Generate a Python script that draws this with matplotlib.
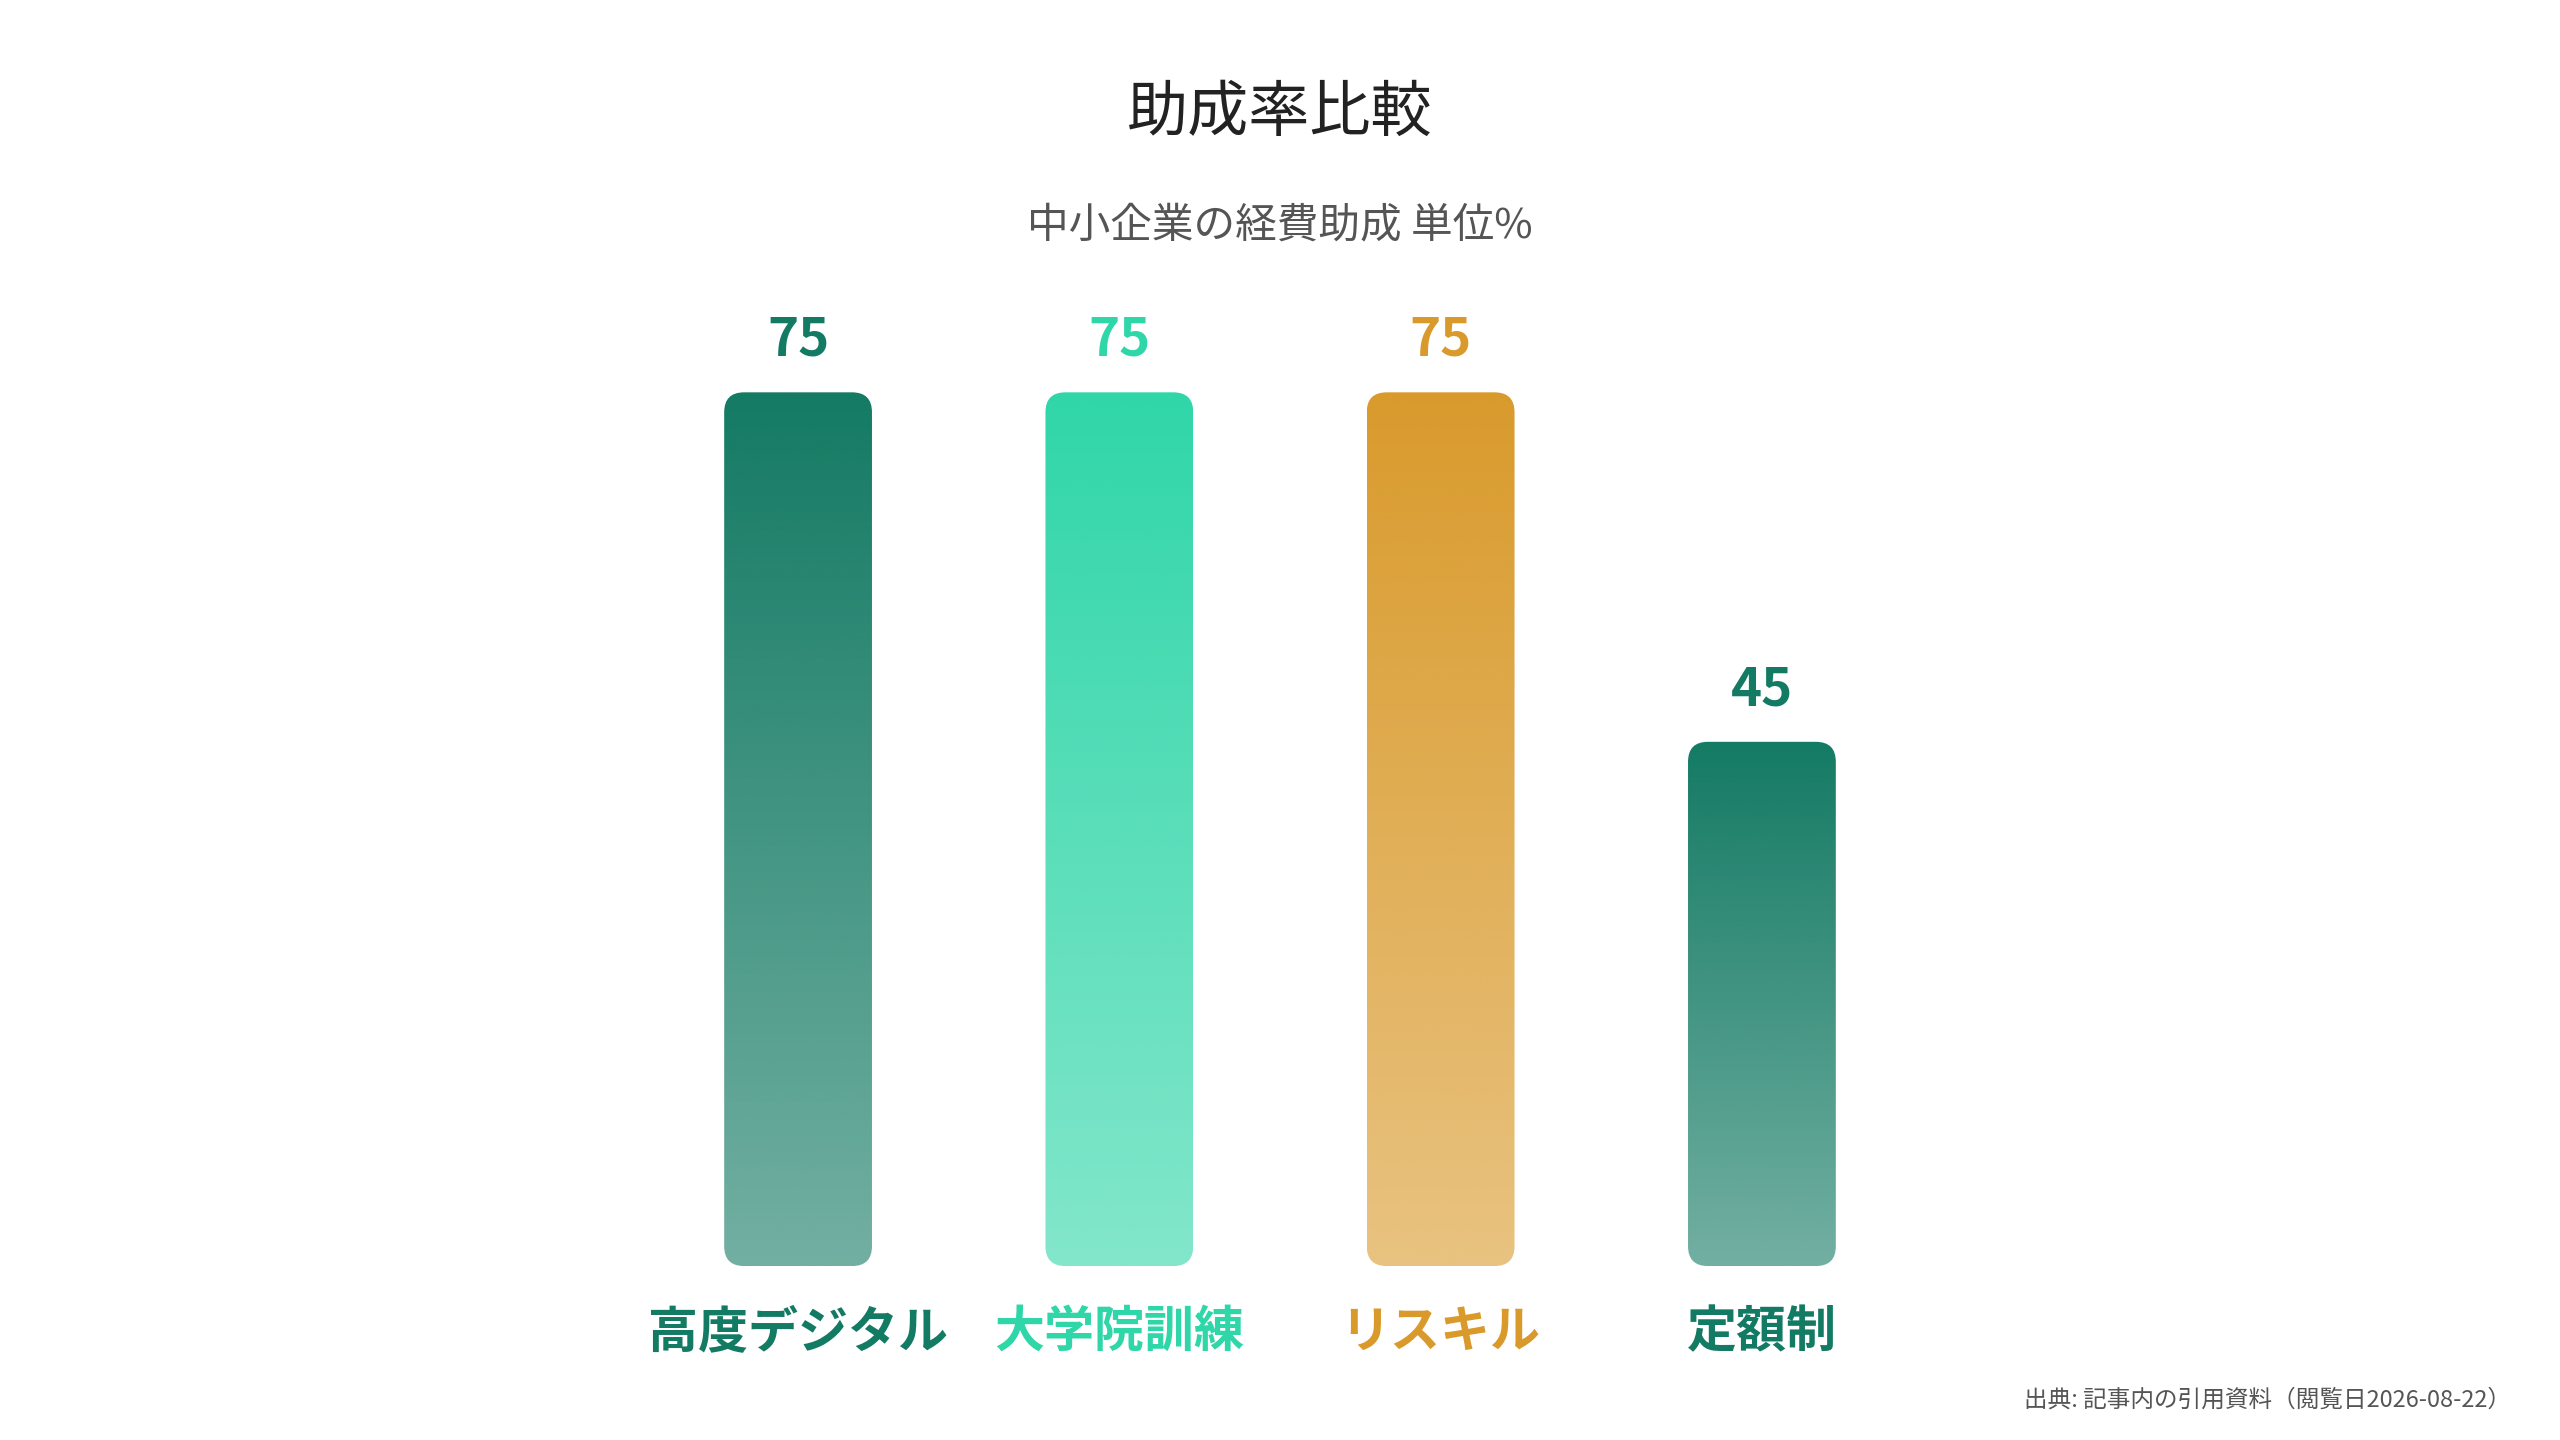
import matplotlib
matplotlib.use("Agg")
import matplotlib.pyplot as plt
import numpy as np
from matplotlib.patches import FancyBboxPatch
from matplotlib.colors import to_rgb

plt.rcParams['font.family'] = ['Noto Sans CJK JP', 'DejaVu Sans']

categories = ["高度デジタル", "大学院訓練", "リスキル", "定額制"]
values = [75, 75, 75, 45]
colors = ["#137a63", "#2fd6a8", "#d99a2b", "#137a63"]
title = "助成率比較"
subtitle = "中小企業の経費助成 単位%"
source = "出典: 記事内の引用資料（閲覧日2026-08-22）"

fig = plt.figure(figsize=(25.6, 14.4), dpi=100)
ax = fig.add_axes([0.249, 0.1208, 0.502, 0.809])
ax.set_xlim(-0.5, 3.5)
ax.set_ylim(0, 100)
ax.axis("off")

w = 0.46
r = 0.062
aspect = 27.6
for i, (v, c) in enumerate(zip(values, colors)):
    x0 = i - w / 2
    patch = FancyBboxPatch((x0, 0), w, v, boxstyle=f"round,pad=0,rounding_size={r}",
                           mutation_aspect=aspect, facecolor="none", edgecolor="none")
    ax.add_patch(patch)
    rgb = to_rgb(c)
    n = 256
    grad = np.zeros((n, 1, 4))
    grad[..., :3] = rgb
    grad[:, 0, 3] = np.linspace(1.0, 0.6, n)
    im = ax.imshow(grad, extent=(x0, x0 + w, 0, v), origin="upper", aspect="auto",
                   interpolation="bilinear", zorder=2)
    im.set_clip_path(patch)
    ax.text(i, v + 2.2, str(v), ha="center", va="bottom", fontsize=38,
            fontweight="bold", color=c)
    ax.text(i, -3.5, categories[i], ha="center", va="top", fontsize=36,
            fontweight="bold", color=c)

fig.text(0.5, 0.921, title, ha="center", va="center", fontsize=44, color="#222222")
fig.text(0.5, 0.843, subtitle, ha="center", va="center", fontsize=30, color="#555555")
fig.text(0.981, 0.028, source, ha="right", va="center", fontsize=17, color="#555555")

fig.savefig("out.png", dpi=100, facecolor="white")
